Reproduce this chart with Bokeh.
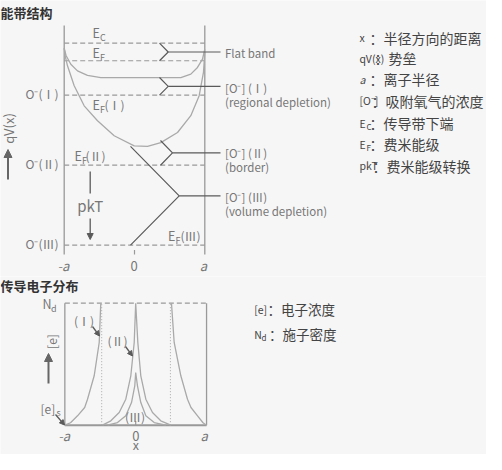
import math
from bokeh.plotting import figure
from bokeh.layouts import column
from bokeh.models import Range1d, Arrow, NormalHead
from bokeh.core.properties import value
from bokeh.embed import file_html
from bokeh.resources import INLINE

# ---------------- data : band structure (x in units of a, energy arbitrary) -------------
level_names = ["E_C", "E_F", "O(I)", "O(II)", "O(III)"]
level_values = [10.0, 9.13, 7.43, 3.96, 0.0]

band1_x = [-1.0, -0.974, -0.906, -0.811, -0.669, -0.479, 0.659, 0.801, 0.896, 0.967, 1.0]
band1_e = [9.75, 9.39, 8.96, 8.63, 8.41, 8.30, 8.30, 8.47, 8.80, 9.21, 9.70]

band2_x = [-1.0, -0.985, -0.953, -0.858, -0.716, -0.526, -0.289, -0.004, 0.185, 0.374,
           0.612, 0.801, 0.920, 0.981, 1.0]
band2_e = [9.75, 9.35, 8.88, 7.89, 6.90, 6.16, 5.42, 4.92, 4.89, 5.08,
           5.58, 6.41, 7.40, 8.55, 9.54]

# ---------------- data : electron distribution ([e] normalised to N_d) -----------------
e1L_x = [-1.0, -0.92, -0.821, -0.72, -0.680, -0.586, -0.515, -0.493]
e1L_y = [0.0, 0.02, 0.077, 0.145, 0.213, 0.405, 0.678, 1.0]
e1R_x = [1.0, 0.95, 0.873, 0.78, 0.731, 0.637, 0.543, 0.505]
e1R_y = [0.0, 0.02, 0.077, 0.145, 0.213, 0.405, 0.678, 1.0]

e2_x = [-0.469, -0.351, -0.233, -0.140, -0.069, -0.021, 0.0, 0.030, 0.072, 0.143, 0.237, 0.354, 0.495]
e2_y = [0.0, 0.036, 0.104, 0.213, 0.405, 0.678, 1.0, 0.678, 0.405, 0.213, 0.104, 0.036, 0.0]

e3_x = [-0.398, -0.257, -0.140, -0.059, -0.013, 0.0, 0.025, 0.072, 0.143, 0.261, 0.425]
e3_y = [0.0, 0.022, 0.077, 0.186, 0.323, 0.432, 0.323, 0.186, 0.077, 0.022, 0.0]

depletion_edges = [-0.48, 0.49]

legend_keys = ["x", "qV(x)", "a", "[O⁻]", "E", "E", "pkT"]
legend_subs = ["", "", "", "", "C", "F", ""]
legend_desc = ["：半径方向的距离", "：势垒", "：离子半径", "：吸附氧气的浓度",
               "：传导带下端", "：费米能级", "：费米能级转换"]

# ---------------- styling ----------------
BG = "#f6f6f6"
CJK = "Noto Sans CJK SC"
LBL = "#777777"
CURVE = "#a9a9a9"
WALL = "#999999"
DARK = "#5a5a5a"

def X1(px): return (px - 142.0) / 70.3
def Y1(py): return (252.7 - py) / 20.2
def X2(px): return (px - 143.2) / 70.85
def Y2(py): return (432.7 - py) / 122.0

def txt(p, xs, ys, texts, size, color=LBL, font=CJK, align="left", baseline="middle",
        style="normal", angle=0.0):
    p.text(x=xs, y=ys, text=texts, text_font=value(font), text_font_size=value(size),
           text_color=color, text_align=align, text_baseline=baseline,
           text_font_style=style, angle=angle)

def base_fig(h, xr, yr):
    p = figure(width=486, height=h, x_range=Range1d(*xr), y_range=Range1d(*yr),
               output_backend="svg", toolbar_location=None, min_border=0)
    p.axis.visible = False
    p.grid.visible = False
    p.outline_line_color = None
    p.background_fill_color = BG
    p.border_fill_color = BG
    return p

# ================= top figure : band structure =================
top = base_fig(276, (X1(8), X1(494)), (Y1(284), Y1(8)))

# walls
top.segment(x0=[-1, 1], y0=[Y1(33)] * 2, x1=[-1, 1], y1=[Y1(262)] * 2,
            line_color=WALL, line_width=1.3)
# levels (dashed)
top.segment(x0=[-1] * len(level_values), y0=level_values, x1=[1] * len(level_values),
            y1=level_values, line_color=WALL, line_width=1.2, line_dash="5 3")
# band curves
top.line(band1_x, band1_e, line_color=CURVE, line_width=1.3)
top.line(band2_x, band2_e, line_color=CURVE, line_width=1.3)
# center tick
top.segment(x0=[0], y0=[Y1(262)], x1=[0], y1=[Y1(257.5)], line_color=WALL, line_width=1.2)

E_C, E_F, O1, O2, O3 = level_values
flat1 = min(band1_e)
min2 = min(band2_e)
chev_xs = [
    [X1(167), X1(175.7), X1(167)],
    [X1(167), X1(175.7), X1(167)],
    [X1(168), X1(180), X1(168)],
    [X1(138), X1(186.7), X1(138)],
]
chev_ys = [
    [E_C, (E_C + E_F) / 2, E_F],
    [flat1, (flat1 + O1) / 2, O1],
    [Y1(148), (Y1(148) + O2) / 2, O2],
    [min2, (min2 + O3) / 2, O3],
]
top.multi_line(chev_xs, chev_ys, line_color=DARK, line_width=1.2)
lead_x0 = [X1(175.7), X1(175.7), X1(180), X1(186.7)]
lead_y = [(E_C + E_F) / 2, (flat1 + O1) / 2, (Y1(148) + O2) / 2, (min2 + O3) / 2]
top.segment(x0=lead_x0, y0=lead_y, x1=[X1(228)] * 4, y1=lead_y, line_color=DARK, line_width=1.2)

# titles & labels
txt(top, [X1(8)], [Y1(20)], ["能带结构"], "13px", color="#333333", style="bold")
# E labels with subscripts
txt(top, [X1(100), X1(100), X1(100), X1(82), X1(175.5)],
    [Y1(40), Y1(60), Y1(112), Y1(163), Y1(243)], ["E"] * 5, "12.5px")
txt(top, [X1(107.5), X1(107.5), X1(107.5), X1(89.5), X1(183)],
    [Y1(44.5), Y1(65), Y1(116.5), Y1(167.5), Y1(247.5)], ["C", "F", "F", "F", "F"], "9px")
txt(top, [X1(112), X1(93), X1(188)], [Y1(112), Y1(163), Y1(243)],
    ["(Ⅰ)", "(Ⅱ)", "(Ⅲ)"], "12px")
txt(top, [X1(66)] * 3, [O1 + 0.1, O2 + 0.1, O3 + 0.1], ["O⁻(Ⅰ)", "O⁻(Ⅱ)", "O⁻(Ⅲ)"], "12px",
    align="right")
txt(top, [X1(97.7)], [Y1(213)], ["pkT"], "15px", align="center")
txt(top, [X1(15.5)], [Y1(136)], ["qV(x)"], "13px", align="center", angle=math.pi / 2)
txt(top, [X1(71), X1(211)], [Y1(273)] * 2, ["-a", "a"], "13px", align="center", style="italic")
txt(top, [X1(141.7)], [Y1(273)], ["0"], "13px", align="center")
txt(top, [X1(232.5)] * 7,
    [Y1(60.7), Y1(95), Y1(109.5), Y1(160), Y1(174), Y1(204), Y1(218.5)],
    ["Flat band", "[O⁻] (Ⅰ)", "(regional depletion)", "[O⁻] (Ⅱ)", "(border)",
     "[O⁻] (Ⅲ)", "(volume depletion)"], "11.5px")

# pkT arrow
top.segment(x0=[X1(97.7)], y0=[Y1(179)], x1=[X1(97.7)], y1=[Y1(201)], line_color=DARK, line_width=1.3)
top.add_layout(Arrow(end=NormalHead(size=6, line_color=DARK, fill_color=DARK),
                     x_start=X1(97.7), y_start=Y1(226), x_end=X1(97.7), y_end=Y1(247),
                     line_color=DARK, line_width=1.3))
# qV(x) arrow
top.add_layout(Arrow(end=NormalHead(size=8, line_color="#666666", fill_color="#666666"),
                     x_start=X1(15.5), y_start=Y1(187), x_end=X1(15.5), y_end=Y1(157),
                     line_color="#666666", line_width=2))

# legend block
rows = [45, 65.7, 86.7, 108, 130.7, 151.7, 173.3]
for i, key in enumerate(legend_keys):
    style = "italic" if key == "a" else "normal"
    txt(top, [X1(367)], [Y1(rows[i])], [key], "10.5px", color="#444444", style=style)
    if legend_subs[i]:
        txt(top, [X1(374)], [Y1(rows[i] + 3.5)], [legend_subs[i]], "8px", color="#444444")
desc_x = [X1(377), X1(382), X1(377), X1(379), X1(377), X1(377), X1(380)]
txt(top, desc_x, [Y1(r) for r in rows], legend_desc, "14px", color="#444444")

# ================= bottom figure : electron distribution =================
bot = base_fig(178, (X2(8), X2(494)), (Y2(462), Y2(284)))

bot.segment(x0=[-1, 1], y0=[0, 0], x1=[-1, 1], y1=[1, 1], line_color=WALL, line_width=1.3)
bot.segment(x0=[-1], y0=[0], x1=[1], y1=[0], line_color=WALL, line_width=2)
bot.segment(x0=[-1], y0=[1], x1=[1], y1=[1], line_color=WALL, line_width=1.2, line_dash="5 3")
bot.segment(x0=depletion_edges, y0=[0, 0], x1=depletion_edges, y1=[1, 1],
            line_color=CURVE, line_width=1, line_dash="1 2")
for xs, ys in [(e1L_x, e1L_y), (e1R_x, e1R_y), (e2_x, e2_y), (e3_x, e3_y)]:
    bot.line(xs, ys, line_color=CURVE, line_width=1.3)
bot.segment(x0=[0], y0=[0], x1=[0], y1=[Y2(428.5)], line_color=WALL, line_width=1.2)

txt(bot, [X2(8)], [Y2(293)], ["传导电子分布"], "13px", color="#333333", style="bold")
txt(bot, [X2(50)], [Y2(311)], ["N"], "12.5px")
txt(bot, [X2(58.5)], [Y2(315.5)], ["d"], "9px")
txt(bot, [X2(91.5), X2(125), X2(142.5)], [Y2(328), Y2(348), Y2(424)],
    ["(Ⅰ)", "(Ⅱ)", "(Ⅲ)"], "12px", align="center")
txt(bot, [X2(48)], [Y2(416)], ["[e]"], "12px")
txt(bot, [X2(64)], [Y2(420)], ["s"], "9px")
txt(bot, [X2(58.5)], [Y2(349)], ["[e]"], "12px", align="center", angle=math.pi / 2)
txt(bot, [X2(71.7), X2(211.7)], [Y2(443)] * 2, ["-a", "a"], "13px", align="center", style="italic")
txt(bot, [X2(143.3)], [Y2(443)], ["0"], "13px", align="center")
txt(bot, [X2(143.3)], [Y2(461.5)], ["x"], "12.5px", align="center", baseline="bottom")

for (xa, ya, xb, yb) in [(100, 334, 107, 343.5), (133, 354, 140, 363.5), (63, 422, 72, 432.5)]:
    bot.add_layout(Arrow(end=NormalHead(size=5, line_color=DARK, fill_color=DARK),
                         x_start=X2(xa), y_start=Y2(ya), x_end=X2(xb), y_end=Y2(yb),
                         line_color=DARK, line_width=1.3))
bot.add_layout(Arrow(end=NormalHead(size=8, line_color="#666666", fill_color="#666666"),
                     x_start=X2(56), y_start=Y2(391), x_end=X2(56), y_end=Y2(361),
                     line_color="#666666", line_width=2))

txt(bot, [X2(261.7)], [Y2(316.7)], ["[e]"], "10.5px", color="#444444")
txt(bot, [X2(261.7)], [Y2(341.7)], ["N"], "10.5px", color="#444444")
txt(bot, [X2(269)], [Y2(345)], ["d"], "8px", color="#444444")
txt(bot, [X2(275), X2(276.5)], [Y2(316.7), Y2(341.7)], ["：电子浓度", "：施子密度"], "13.5px",
    color="#444444")

layout = column(top, bot, spacing=0)
open("out.html", "w").write(file_html(layout, INLINE))
